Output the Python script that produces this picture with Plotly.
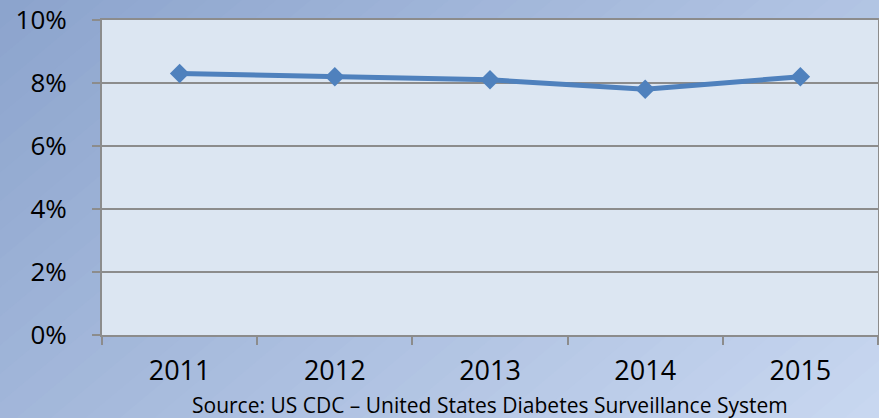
import plotly.graph_objects as go

years = ["2011", "2012", "2013", "2014", "2015"]
rates = [8.3, 8.2, 8.1, 7.8, 8.2]
ytick_vals = [0, 2, 4, 6, 8, 10]
ytick_text = ["0%", "2%", "4%", "6%", "8%", "10%"]
source_text = "Source: US CDC – United States Diabetes Surveillance System"

W, H = 879, 418
L, R, T, B = 102, 1, 20, 83
pw, ph = W - L - R, H - T - B

def px2paper(x, y):
    return ((x - L) / pw, (H - B - y) / ph)

# diagonal gradient background via stacked half-plane polygons
c0 = (0x8C, 0xA4, 0xCD)
c1 = (0xC8, 0xD7, 0xF0)
N = 40
shapes = []
big = 3000
for i in range(N):
    f = i / (N - 1)
    col = "rgb(%d,%d,%d)" % tuple(round(a + (b - a) * f) for a, b in zip(c0, c1))
    tmax = W + 1.2 * H
    ti = tmax * i / N
    p1 = (ti - 1.2 * (-big), -big)
    p2 = (ti - 1.2 * big, big)
    pts = [p1, p2, (big * 3, big), (big * 3, -big)]
    pp = [px2paper(x, y) for x, y in pts]
    path = "M " + " L ".join("%f,%f" % p for p in pp) + " Z"
    shapes.append(dict(type="path", xref="paper", yref="paper", path=path,
                       fillcolor=col, line=dict(width=0), layer="below"))
# plot area fill
shapes.append(dict(type="rect", xref="paper", yref="paper", x0=0, x1=1, y0=0, y1=1,
                   fillcolor="#DCE6F2", line=dict(width=0), layer="below"))

fig = go.Figure()
fig.add_trace(go.Scatter(
    x=years, y=rates, mode="lines+markers",
    line=dict(color="#4F81BD", width=5),
    marker=dict(symbol="diamond", size=15, color="#4F81BD"),
    showlegend=False, hoverinfo="skip",
))

fig.update_layout(
    width=W, height=H,
    margin=dict(l=L, r=R, t=T, b=B, autoexpand=False),
    paper_bgcolor="#A9BEE0",
    plot_bgcolor="#DCE6F2",
    shapes=shapes,
    font=dict(family="Open Sans", color="black"),
    annotations=[dict(text=source_text, xref="paper", yref="paper",
                      x=(490 - L) / pw, y=(335 - 405) / ph, xanchor="center", yanchor="middle",
                      showarrow=False, font=dict(size=21, family="Open Sans", color="black"))],
)
fig.update_xaxes(
    type="category", tickson="boundaries", ticks="outside", ticklen=8, tickwidth=2,
    tickcolor="#8C8C8C", showline=True, linecolor="#8C8C8C", linewidth=2, mirror=True,
    showgrid=False, tickfont=dict(size=27, family="Open Sans"), ticklabelstandoff=11,
    range=[-0.5, 4.5], automargin=False,
)
fig.update_yaxes(
    range=[0, 10], tickvals=ytick_vals, ticktext=ytick_text, ticks="outside", ticklen=8,
    tickwidth=2, tickcolor="#8C8C8C", showline=True, linecolor="#8C8C8C", linewidth=2,
    mirror=True, showgrid=True, gridcolor="#8C8C8C", gridwidth=2, zeroline=False,
    tickfont=dict(size=26, family="Open Sans"), ticklabelstandoff=20, automargin=False,
)
fig.write_html("out.html", config={"displayModeBar": False},
               post_script="document.body.style.margin='0';")
